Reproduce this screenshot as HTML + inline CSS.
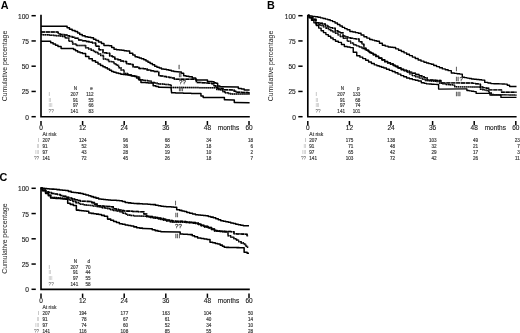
<!DOCTYPE html>
<html><head><meta charset="utf-8"><title>Figure</title>
<style>
html,body{margin:0;padding:0;background:#fff;overflow:hidden}
svg{display:block;font-family:"Liberation Sans",sans-serif;filter:blur(0.35px)}
</style></head><body>
<svg width="520" height="333" viewBox="0 0 520 333">
<rect width="520" height="333" fill="#fff"/>
<path d="M41 14.7V116.7H249.8" fill="none" stroke="#000" stroke-width="1.65"/>
<path d="M31.5 15.7H35.8" stroke="#000" stroke-width="1.5"/>
<text x="29" y="18.7" text-anchor="end" font-size="6.6" fill="#1a1a1a" stroke="#1a1a1a" stroke-width="0.12">100</text>
<path d="M31.5 40.95H35.8" stroke="#000" stroke-width="1.5"/>
<text x="29" y="43.95" text-anchor="end" font-size="6.6" fill="#1a1a1a" stroke="#1a1a1a" stroke-width="0.12">75</text>
<path d="M31.5 66.2H35.8" stroke="#000" stroke-width="1.5"/>
<text x="29" y="69.2" text-anchor="end" font-size="6.6" fill="#1a1a1a" stroke="#1a1a1a" stroke-width="0.12">50</text>
<path d="M31.5 91.45H35.8" stroke="#000" stroke-width="1.5"/>
<text x="29" y="94.45" text-anchor="end" font-size="6.6" fill="#1a1a1a" stroke="#1a1a1a" stroke-width="0.12">25</text>
<path d="M31.5 116.7H35.8" stroke="#000" stroke-width="1.5"/>
<text x="29" y="119.7" text-anchor="end" font-size="6.6" fill="#1a1a1a" stroke="#1a1a1a" stroke-width="0.12">0</text>
<path d="M41 121V125.3" stroke="#000" stroke-width="1.5"/>
<text x="41" y="130.15" text-anchor="middle" font-size="6.5" fill="#1a1a1a" stroke="#1a1a1a" stroke-width="0.12">0</text>
<path d="M82.6 121V125.3" stroke="#000" stroke-width="1.5"/>
<text x="82.6" y="130.15" text-anchor="middle" font-size="6.5" fill="#1a1a1a" stroke="#1a1a1a" stroke-width="0.12">12</text>
<path d="M124.2 121V125.3" stroke="#000" stroke-width="1.5"/>
<text x="124.2" y="130.15" text-anchor="middle" font-size="6.5" fill="#1a1a1a" stroke="#1a1a1a" stroke-width="0.12">24</text>
<path d="M165.8 121V125.3" stroke="#000" stroke-width="1.5"/>
<text x="165.8" y="130.15" text-anchor="middle" font-size="6.5" fill="#1a1a1a" stroke="#1a1a1a" stroke-width="0.12">36</text>
<path d="M207.4 121V125.3" stroke="#000" stroke-width="1.5"/>
<text x="207.4" y="130.15" text-anchor="middle" font-size="6.5" fill="#1a1a1a" stroke="#1a1a1a" stroke-width="0.12">48</text>
<path d="M249 121V125.3" stroke="#000" stroke-width="1.5"/>
<text x="249" y="130.15" text-anchor="middle" font-size="6.5" fill="#1a1a1a" stroke="#1a1a1a" stroke-width="0.12">60</text>
<text x="228.5" y="130" text-anchor="middle" font-size="6.5" fill="#1a1a1a" stroke="#1a1a1a" stroke-width="0.12">months</text>
<text transform="translate(6.6 66) rotate(-90)" text-anchor="middle" font-size="6.85" fill="#222">Cumulative percentage</text>
<text x="0.8" y="9.3" font-size="10.8" font-weight="bold" fill="#000">A</text>
<path d="M41 26.2L65.9 26.2H67.1V27.7H68.3H69.5V29.2H70.7H72.15V30.4H73.6H75.05V31.6H76.5H77.58V33.1H78.65H79.72V34.6H80.8H82.22V35.65H83.65H85.08V36.7H86.5H87.95V37.2H89.4H90.85V37.7H92.3H93.5V39.15H94.7H95.9V40.6H97.1H98.55V42.05H100H101.45V43.5H102.9H103.95V45.4H105H106.38V45.6H107.75H109.12V45.8H110.5H111.67V47.55H112.85H114.03V49.3H115.2H116.55V49.7H117.9H119.25V50.1H120.6H121.78V50.37H122.97H124.15V50.63H125.33H126.52V50.9H127.7H129.65V53.2H131.6H132.76V54.95H133.93H135.09V56.7H136.25H137.24V57.3H138.22H139.21V57.9H140.2H141.4V58.85H142.6H143.8V59.8H145H146V61H147H148V62.2H149H150.13V63.53H151.27H152.4V64.87H153.53H154.67V66.2H155.8H156.93V67.13H158.07H159.2V68.07H160.33H161.47V69H162.6H163.85V69.35H165.1H166.35V69.7H167.6H168.83V70.33H170.07H171.3V70.97H172.53H173.77V71.6H175L180 71.9H181.35V73.3H182.7H183.65V75.7H184.6H186.05V76.2H187.5H188.95V76.7H190.4H192.3V78.1H194.2H195.65V80H197.1L206.7 80H207.45V81.4H208.2H209.55V81.6H210.9H212.25V81.8H213.6H214.05V82.8H214.5H215.85V83.2H217.2H217.65V85.9H218.1H219.9V86.8H221.7L237 87H238.35V88.6H239.7H241.5V89H243.3H244.2V90H245.1L249.6 90" fill="none" stroke="#000" stroke-width="1.5" stroke-linejoin="round"/>
<path d="M41 32.1L58 32.1L58.6 34H60.42V34.5H62.25H64.08V35H65.9H67.1V35.7H68.3H69.5V36.4H70.7H72.15V37.35H73.6H75.05V38.3H76.5H78.65V40H80.8H82.47V40.75H84.15H85.83V41.5H87.5H89.17V42.25H90.85H92.53V43H94.2H95.65V46.3H97.1H99.05V49.7H101H103V52.8H105H106.55V53.2H108.1H109.67V55.9H111.25H112.42V56.7H113.6H114.75V59.1H115.9H117.85V59.8H119.8H120.6V61H121.4H123.35V61.4H125.3H126.5V63.75H127.7H128.85V64.12H130H131.15V64.5H132.3H133.1V66.9H133.9L137.8 66.9H139V68.4H140.2H141.4V68.6H142.6H143.8V68.8H145H147V70H149H150.7V70.75H152.4H154.1V71.5H155.8L158 71.5H158.75V75.7H159.5H160.88V76.05H162.25H163.62V76.4H165H166.33V76.93H167.67H169V77.47H170.33H171.67V78H173H174.35V79.3H175.7L195.7 79.3H196.4V82.4H197.1H198.71V82.6H200.32H201.94V82.8H203.55H205.16V83H206.78H208.39V83.2H210H211.8V83.8H213.6H214.05V85.7H214.5H215.85V86.5H217.2H217.65V88.2H218.1H219.22V88.4H220.35H221.47V88.6H222.6H223.05V89.7H223.5L233.4 89.9H234.1V91.3H234.8H235.9V92.2H237H238.57V92.33H240.15H241.73V92.45H243.3H244.88V92.58H246.45H248.02V92.7H249.6" fill="none" stroke="#000" stroke-opacity="0.5" stroke-width="1.5" stroke-linejoin="round"/>
<path d="M41 32.1L58 32.1L58.6 34H60.42V34.5H62.25H64.08V35H65.9H67.1V35.7H68.3H69.5V36.4H70.7H72.15V37.35H73.6H75.05V38.3H76.5H78.65V40H80.8H82.47V40.75H84.15H85.83V41.5H87.5H89.17V42.25H90.85H92.53V43H94.2H95.65V46.3H97.1H99.05V49.7H101H103V52.8H105H106.55V53.2H108.1H109.67V55.9H111.25H112.42V56.7H113.6H114.75V59.1H115.9H117.85V59.8H119.8H120.6V61H121.4H123.35V61.4H125.3H126.5V63.75H127.7H128.85V64.12H130H131.15V64.5H132.3H133.1V66.9H133.9L137.8 66.9H139V68.4H140.2H141.4V68.6H142.6H143.8V68.8H145H147V70H149H150.7V70.75H152.4H154.1V71.5H155.8L158 71.5H158.75V75.7H159.5H160.88V76.05H162.25H163.62V76.4H165H166.33V76.93H167.67H169V77.47H170.33H171.67V78H173H174.35V79.3H175.7L195.7 79.3H196.4V82.4H197.1H198.71V82.6H200.32H201.94V82.8H203.55H205.16V83H206.78H208.39V83.2H210H211.8V83.8H213.6H214.05V85.7H214.5H215.85V86.5H217.2H217.65V88.2H218.1H219.22V88.4H220.35H221.47V88.6H222.6H223.05V89.7H223.5L233.4 89.9H234.1V91.3H234.8H235.9V92.2H237H238.57V92.33H240.15H241.73V92.45H243.3H244.88V92.58H246.45H248.02V92.7H249.6" fill="none" stroke="#000" stroke-width="1.5" stroke-linejoin="round" stroke-dasharray="4 0.9"/>
<path d="M41 34.5H42.38V34.67H43.75H45.12V34.85H46.5H47.88V35.03H49.25H50.62V35.2H52H53.5V35.5H55H56.5V35.8H58H59.5V36.1H61H62.5V36.4H64H65.4V37.9H66.8H68.75V41.2H70.7H72.6V44.1H74.5H76.45V45.4H78.4L83.7 45.6H85.6V47.8H87.5H88.7V49H89.9H91.1V50.2H92.3H93.5V51.4H94.7H95.9V52.6H97.1H98.3V54.05H99.5H100.7V55.5H101.9H103.45V59.1H105H106.15V59.5H107.3H108.5V61.4H109.7H111.25V61.8H112.8H114V63.75H115.2H116.35V65.3H117.5H118.65V67.7H119.8H121V70H122.2H124.1V73.6H126H127.7V74.65H129.4H131.1V75.7H132.8H134.15V76.35H135.5H136.85V77H138.2H139.6V79.7H141H142.33V80.13H143.67H145V80.57H146.33H147.67V81H149H151V82.4H153H154.38V83.1H155.75H157.12V83.8H158.5H159.94V84.03H161.38H162.81V84.25H164.25H165.69V84.47H167.12H168.56V84.7H170H171.15V87.5H172.3L215.4 87.7H216.75V89.5H218.1H219.22V89.75H220.35H221.47V90H222.6H223.05V91.8H223.5H225.3V92.7H227.1H228.05V93.6H229H230.75V94H232.5L249.6 94" fill="none" stroke="#000" stroke-opacity="0.5" stroke-width="1.5" stroke-linejoin="round"/>
<path d="M41 34.5H42.38V34.67H43.75H45.12V34.85H46.5H47.88V35.03H49.25H50.62V35.2H52H53.5V35.5H55H56.5V35.8H58H59.5V36.1H61H62.5V36.4H64H65.4V37.9H66.8H68.75V41.2H70.7H72.6V44.1H74.5H76.45V45.4H78.4L83.7 45.6H85.6V47.8H87.5H88.7V49H89.9H91.1V50.2H92.3H93.5V51.4H94.7H95.9V52.6H97.1H98.3V54.05H99.5H100.7V55.5H101.9H103.45V59.1H105H106.15V59.5H107.3H108.5V61.4H109.7H111.25V61.8H112.8H114V63.75H115.2H116.35V65.3H117.5H118.65V67.7H119.8H121V70H122.2H124.1V73.6H126H127.7V74.65H129.4H131.1V75.7H132.8H134.15V76.35H135.5H136.85V77H138.2H139.6V79.7H141H142.33V80.13H143.67H145V80.57H146.33H147.67V81H149H151V82.4H153H154.38V83.1H155.75H157.12V83.8H158.5H159.94V84.03H161.38H162.81V84.25H164.25H165.69V84.47H167.12H168.56V84.7H170H171.15V87.5H172.3L215.4 87.7H216.75V89.5H218.1H219.22V89.75H220.35H221.47V90H222.6H223.05V91.8H223.5H225.3V92.7H227.1H228.05V93.6H229H230.75V94H232.5L249.6 94" fill="none" stroke="#000" stroke-width="1.5" stroke-linejoin="round" stroke-dasharray="1.3 0.75"/>
<path d="M41 41.2L49.5 41.2H50.7V42.65H51.9H53.1V44.1H54.3H55.52V45.3H56.75H57.98V46.5H59.2H61.1V48.4H63L72.6 48.4H73.57V49.6H74.55H75.53V50.8H76.5H77.65V52.1H78.8H80.03V52.85H81.25H82.47V53.6H83.7H85.6V56.4H87.5H88.95V58.8H90.4H92.3V60.8H94.2H95.47V62.37H96.73H98V63.93H99.27H100.53V65.5H101.8H102.92V66.63H104.03H105.15V67.77H106.27H107.38V68.9H108.5H109.53V70.25H110.55H111.57V71.6H112.6H113.77V72.27H114.95H116.12V72.95H117.3H118.47V73.62H119.65H120.83V74.3H122H123.13V74.53H124.27H125.4V74.77H126.53H127.67V75H128.8H129.92V75.47H131.03H132.15V75.93H133.27H134.38V76.4H135.5H136.53V78.05H137.55H138.57V79.7H139.6H140.95V82.4H142.3H143.49V82.58H144.68H145.86V82.75H147.05H148.24V82.92H149.43H150.61V83.1H151.8H153.15V85.8H154.5H155.85V86.5H157.2H158.55V87.2H159.9L171 87.4L171.6 92.8H172.9V92.87H174.21H175.51V92.95H176.82H178.12V93.02H179.43H180.73V93.09H182.04H183.34V93.16H184.65H185.95V93.24H187.25H188.56V93.31H189.86H191.17V93.38H192.47H193.78V93.45H195.08H196.39V93.53H197.69H199V93.6H200.3H200.95V95.9H201.6H203.2V97.4H204.8L223.5 97.6H224.4V99.7H225.3L233.4 99.9H234.3V102.6H235.2L249.6 102.8" fill="none" stroke="#000" stroke-width="1.5" stroke-linejoin="round"/>
<text x="178.2" y="68.6" font-size="6.2" fill="#4a4a4a" stroke="#4a4a4a" stroke-width="0.3">I</text>
<text x="178.4" y="76.8" font-size="6.2" fill="#4a4a4a" stroke="#4a4a4a" stroke-width="0.3">II</text>
<text x="179" y="84.3" font-size="6.2" fill="#4a4a4a" stroke="#4a4a4a" stroke-width="0.3">??</text>
<text x="178.4" y="91" font-size="6.2" fill="#4a4a4a" stroke="#4a4a4a" stroke-width="0.3">III</text>
<text x="75.5" y="90.1" text-anchor="middle" font-size="4.6" fill="#3c3c3c" stroke="#3c3c3c" stroke-width="0.17">N</text>
<text x="91.6" y="90.1" text-anchor="middle" font-size="4.6" fill="#3c3c3c" stroke="#3c3c3c" stroke-width="0.17">e</text>
<text x="48.6" y="95.9" font-size="4.6" fill="#8a8a8a">I</text>
<text x="78.2" y="95.9" text-anchor="end" font-size="4.6" fill="#3c3c3c" stroke="#3c3c3c" stroke-width="0.17">207</text>
<text x="93.5" y="95.9" text-anchor="end" font-size="4.6" fill="#3c3c3c" stroke="#3c3c3c" stroke-width="0.17">112</text>
<text x="48.6" y="101.67" font-size="4.6" fill="#a8a8a8">II</text>
<text x="78.2" y="101.67" text-anchor="end" font-size="4.6" fill="#3c3c3c" stroke="#3c3c3c" stroke-width="0.17">91</text>
<text x="93.5" y="101.67" text-anchor="end" font-size="4.6" fill="#3c3c3c" stroke="#3c3c3c" stroke-width="0.17">55</text>
<text x="48.6" y="107.44" font-size="4.6" fill="#a8a8a8">III</text>
<text x="78.2" y="107.44" text-anchor="end" font-size="4.6" fill="#3c3c3c" stroke="#3c3c3c" stroke-width="0.17">97</text>
<text x="93.5" y="107.44" text-anchor="end" font-size="4.6" fill="#3c3c3c" stroke="#3c3c3c" stroke-width="0.17">66</text>
<text x="48.6" y="113.21" font-size="4.6" fill="#484848">??</text>
<text x="78.2" y="113.21" text-anchor="end" font-size="4.6" fill="#3c3c3c" stroke="#3c3c3c" stroke-width="0.17">141</text>
<text x="93.5" y="113.21" text-anchor="end" font-size="4.6" fill="#3c3c3c" stroke="#3c3c3c" stroke-width="0.17">83</text>
<text x="42.5" y="136.3" font-size="5" fill="#3c3c3c" stroke="#3c3c3c" stroke-width="0.17">At risk</text>
<text x="39.2" y="142.3" text-anchor="end" font-size="4.6" fill="#8a8a8a">I</text>
<text x="42.5" y="142.3" font-size="4.6" fill="#3c3c3c" stroke="#3c3c3c" stroke-width="0.17">207</text>
<text x="86.6" y="142.3" text-anchor="end" font-size="4.6" fill="#3c3c3c" stroke="#3c3c3c" stroke-width="0.17">124</text>
<text x="128.2" y="142.3" text-anchor="end" font-size="4.6" fill="#3c3c3c" stroke="#3c3c3c" stroke-width="0.17">96</text>
<text x="169.8" y="142.3" text-anchor="end" font-size="4.6" fill="#3c3c3c" stroke="#3c3c3c" stroke-width="0.17">68</text>
<text x="211.4" y="142.3" text-anchor="end" font-size="4.6" fill="#3c3c3c" stroke="#3c3c3c" stroke-width="0.17">34</text>
<text x="253" y="142.3" text-anchor="end" font-size="4.6" fill="#3c3c3c" stroke="#3c3c3c" stroke-width="0.17">18</text>
<text x="39.2" y="148.25" text-anchor="end" font-size="4.6" fill="#a8a8a8">II</text>
<text x="42.5" y="148.25" font-size="4.6" fill="#3c3c3c" stroke="#3c3c3c" stroke-width="0.17">91</text>
<text x="86.6" y="148.25" text-anchor="end" font-size="4.6" fill="#3c3c3c" stroke="#3c3c3c" stroke-width="0.17">52</text>
<text x="128.2" y="148.25" text-anchor="end" font-size="4.6" fill="#3c3c3c" stroke="#3c3c3c" stroke-width="0.17">36</text>
<text x="169.8" y="148.25" text-anchor="end" font-size="4.6" fill="#3c3c3c" stroke="#3c3c3c" stroke-width="0.17">26</text>
<text x="211.4" y="148.25" text-anchor="end" font-size="4.6" fill="#3c3c3c" stroke="#3c3c3c" stroke-width="0.17">18</text>
<text x="253" y="148.25" text-anchor="end" font-size="4.6" fill="#3c3c3c" stroke="#3c3c3c" stroke-width="0.17">6</text>
<text x="39.2" y="154.2" text-anchor="end" font-size="4.6" fill="#a8a8a8">III</text>
<text x="42.5" y="154.2" font-size="4.6" fill="#3c3c3c" stroke="#3c3c3c" stroke-width="0.17">97</text>
<text x="86.6" y="154.2" text-anchor="end" font-size="4.6" fill="#3c3c3c" stroke="#3c3c3c" stroke-width="0.17">43</text>
<text x="128.2" y="154.2" text-anchor="end" font-size="4.6" fill="#3c3c3c" stroke="#3c3c3c" stroke-width="0.17">28</text>
<text x="169.8" y="154.2" text-anchor="end" font-size="4.6" fill="#3c3c3c" stroke="#3c3c3c" stroke-width="0.17">19</text>
<text x="211.4" y="154.2" text-anchor="end" font-size="4.6" fill="#3c3c3c" stroke="#3c3c3c" stroke-width="0.17">10</text>
<text x="253" y="154.2" text-anchor="end" font-size="4.6" fill="#3c3c3c" stroke="#3c3c3c" stroke-width="0.17">2</text>
<text x="39.2" y="160.15" text-anchor="end" font-size="4.6" fill="#484848">??</text>
<text x="42.5" y="160.15" font-size="4.6" fill="#3c3c3c" stroke="#3c3c3c" stroke-width="0.17">141</text>
<text x="86.6" y="160.15" text-anchor="end" font-size="4.6" fill="#3c3c3c" stroke="#3c3c3c" stroke-width="0.17">72</text>
<text x="128.2" y="160.15" text-anchor="end" font-size="4.6" fill="#3c3c3c" stroke="#3c3c3c" stroke-width="0.17">45</text>
<text x="169.8" y="160.15" text-anchor="end" font-size="4.6" fill="#3c3c3c" stroke="#3c3c3c" stroke-width="0.17">26</text>
<text x="211.4" y="160.15" text-anchor="end" font-size="4.6" fill="#3c3c3c" stroke="#3c3c3c" stroke-width="0.17">18</text>
<text x="253" y="160.15" text-anchor="end" font-size="4.6" fill="#3c3c3c" stroke="#3c3c3c" stroke-width="0.17">7</text>
<path d="M307.8 14.7V116.7H516.6" fill="none" stroke="#000" stroke-width="1.65"/>
<path d="M298.3 15.7H302.6" stroke="#000" stroke-width="1.5"/>
<text x="295.8" y="18.7" text-anchor="end" font-size="6.6" fill="#1a1a1a" stroke="#1a1a1a" stroke-width="0.12">100</text>
<path d="M298.3 40.95H302.6" stroke="#000" stroke-width="1.5"/>
<text x="295.8" y="43.95" text-anchor="end" font-size="6.6" fill="#1a1a1a" stroke="#1a1a1a" stroke-width="0.12">75</text>
<path d="M298.3 66.2H302.6" stroke="#000" stroke-width="1.5"/>
<text x="295.8" y="69.2" text-anchor="end" font-size="6.6" fill="#1a1a1a" stroke="#1a1a1a" stroke-width="0.12">50</text>
<path d="M298.3 91.45H302.6" stroke="#000" stroke-width="1.5"/>
<text x="295.8" y="94.45" text-anchor="end" font-size="6.6" fill="#1a1a1a" stroke="#1a1a1a" stroke-width="0.12">25</text>
<path d="M298.3 116.7H302.6" stroke="#000" stroke-width="1.5"/>
<text x="295.8" y="119.7" text-anchor="end" font-size="6.6" fill="#1a1a1a" stroke="#1a1a1a" stroke-width="0.12">0</text>
<path d="M307.8 121V125.3" stroke="#000" stroke-width="1.5"/>
<text x="307.8" y="130.15" text-anchor="middle" font-size="6.5" fill="#1a1a1a" stroke="#1a1a1a" stroke-width="0.12">0</text>
<path d="M349.4 121V125.3" stroke="#000" stroke-width="1.5"/>
<text x="349.4" y="130.15" text-anchor="middle" font-size="6.5" fill="#1a1a1a" stroke="#1a1a1a" stroke-width="0.12">12</text>
<path d="M391 121V125.3" stroke="#000" stroke-width="1.5"/>
<text x="391" y="130.15" text-anchor="middle" font-size="6.5" fill="#1a1a1a" stroke="#1a1a1a" stroke-width="0.12">24</text>
<path d="M432.6 121V125.3" stroke="#000" stroke-width="1.5"/>
<text x="432.6" y="130.15" text-anchor="middle" font-size="6.5" fill="#1a1a1a" stroke="#1a1a1a" stroke-width="0.12">36</text>
<path d="M474.2 121V125.3" stroke="#000" stroke-width="1.5"/>
<text x="474.2" y="130.15" text-anchor="middle" font-size="6.5" fill="#1a1a1a" stroke="#1a1a1a" stroke-width="0.12">48</text>
<path d="M515.8 121V125.3" stroke="#000" stroke-width="1.5"/>
<text x="515.8" y="130.15" text-anchor="middle" font-size="6.5" fill="#1a1a1a" stroke="#1a1a1a" stroke-width="0.12">60</text>
<text x="495.3" y="130" text-anchor="middle" font-size="6.5" fill="#1a1a1a" stroke="#1a1a1a" stroke-width="0.12">months</text>
<text transform="translate(273.4 66) rotate(-90)" text-anchor="middle" font-size="6.85" fill="#222">Cumulative percentage</text>
<text x="267" y="9.3" font-size="10.8" font-weight="bold" fill="#000">B</text>
<path d="M307.9 15.4H309.34V15.88H310.77H312.21V16.35H313.65H315.09V16.82H316.52H317.96V17.3H319.4H320.6V17.9H321.8H323V18.5H324.2H325.4V19.1H326.6H327.8V19.7H329H330.2V20.65H331.4H332.6V21.6H333.8H335.02V23.05H336.25H337.48V24.5H338.7H339.9V25.95H341.1H342.3V27.4H343.5H344.7V28.6H345.9H347.1V29.8H348.3H349.9V31.5H351.5H352.85V32.07H354.2H355.55V32.63H356.9H358.25V33.2H359.6H361.05V34.95H362.5H363.95V36.7H365.4H366.82V38.1H368.25H369.68V39.5H371.1H372.25V40.1H373.4H374.55V40.7H375.7H376.85V41.3H378H379.45V43.3H380.9H382.35V45.3H383.8H385.25V46.15H386.7H388.15V47H389.6H390.75V47.25H391.9H393.05V47.5H394.2H395.65V48.85H397.1H398.55V50.2H400H401.33V51.53H402.67H404V52.87H405.33H406.67V54.2H408H409.45V55.65H410.9H412.35V57.1H413.8H415.25V58.55H416.7H418.15V60H419.6H421.05V61.15H422.5H423.95V62.3H425.4H426.55V62.97H427.7H428.85V63.63H430H431.15V64.3H432.3H433.73V65.45H435.15H436.57V66.6H438H439.45V67.75H440.9H442.35V68.9H443.8H445.25V69.78H446.7H448.15V70.65H449.6H451.3V73H453H454.35V73.37H455.7H457.05V73.73H458.4H459.75V74.1H461.1H462.3V77.2H463.5H464.65V77.65H465.8H466.95V78.1H468.1H469.25V78.55H470.4H471.55V79H472.7H473.99V79.28H475.27H476.56V79.55H477.85H479.14V79.82H480.43H481.71V80.1H483H484.75V82.4H486.5H487.95V83H489.4H490.85V83.6H492.3H493.68V83.7H495.06H496.44V83.8H497.82H499.2V83.9H500.58H501.96V84H503.34H504.72V84.1H506.1H507.26V85.3H508.43H509.59V86.5H510.75L516.5 86.5" fill="none" stroke="#000" stroke-width="1.4" stroke-linejoin="round"/>
<path d="M307.9 15.4H309.57V17.3H311.25H312.93V19.2H314.6H316.05V22.6H317.5H319.18V23.3H320.85H322.52V24H324.2H325.4V25.45H326.6H327.8V26.9H329H330.2V27.6H331.4H332.6V28.3H333.8H335.25V30.75H336.7H337.9V31.73H339.1H340.3V32.7H341.5H343.05V36H344.6H345.75V36.9H346.9H348.05V37.8H349.2H350.55V38.2H351.9H353.25V38.6H354.6H355.95V39H357.3H359.05V41.8H360.8H361.9V44.1H363H363.9V48.2H364.8H366.1V50.2H367.4H368.7V52.2H370H371.15V53.35H372.3H373.45V54.5H374.6H376.05V56.25H377.5H378.95V58H380.4H381.82V59.7H383.25H384.68V61.4H386.1H387.55V62.58H389H390.45V63.75H391.9H393.05V65.03H394.2H395.35V66.3H396.5H397.95V67.75H399.4H400.85V69.2H402.3H403.73V70.1H405.15H406.57V71H408H409.45V72.15H410.9H412.35V73.3H413.8H415.55V74.55H417.3H419.05V75.8H420.8H421.95V76.7H423.1H424.25V77.6H425.4H427.1V79.9H428.8H430.25V80.05H431.7H433.15V80.2H434.6H436.05V80.35H437.5H438.95V80.5H440.4H440.95V82.8H441.5L471.5 83H472.85V83.37H474.2H475.55V83.73H476.9H478.25V84.1H479.6H480.45V87H481.3H482.9V87.6H484.5H486.1V88.2H487.7H488.85V89.9H490L500.4 89.9H501.55V92.2H502.7L516.5 92.2" fill="none" stroke="#000" stroke-opacity="0.5" stroke-width="1.4" stroke-linejoin="round"/>
<path d="M307.9 15.4H309.57V17.3H311.25H312.93V19.2H314.6H316.05V22.6H317.5H319.18V23.3H320.85H322.52V24H324.2H325.4V25.45H326.6H327.8V26.9H329H330.2V27.6H331.4H332.6V28.3H333.8H335.25V30.75H336.7H337.9V31.73H339.1H340.3V32.7H341.5H343.05V36H344.6H345.75V36.9H346.9H348.05V37.8H349.2H350.55V38.2H351.9H353.25V38.6H354.6H355.95V39H357.3H359.05V41.8H360.8H361.9V44.1H363H363.9V48.2H364.8H366.1V50.2H367.4H368.7V52.2H370H371.15V53.35H372.3H373.45V54.5H374.6H376.05V56.25H377.5H378.95V58H380.4H381.82V59.7H383.25H384.68V61.4H386.1H387.55V62.58H389H390.45V63.75H391.9H393.05V65.03H394.2H395.35V66.3H396.5H397.95V67.75H399.4H400.85V69.2H402.3H403.73V70.1H405.15H406.57V71H408H409.45V72.15H410.9H412.35V73.3H413.8H415.55V74.55H417.3H419.05V75.8H420.8H421.95V76.7H423.1H424.25V77.6H425.4H427.1V79.9H428.8H430.25V80.05H431.7H433.15V80.2H434.6H436.05V80.35H437.5H438.95V80.5H440.4H440.95V82.8H441.5L471.5 83H472.85V83.37H474.2H475.55V83.73H476.9H478.25V84.1H479.6H480.45V87H481.3H482.9V87.6H484.5H486.1V88.2H487.7H488.85V89.9H490L500.4 89.9H501.55V92.2H502.7L516.5 92.2" fill="none" stroke="#000" stroke-width="1.4" stroke-linejoin="round" stroke-dasharray="4 0.9"/>
<path d="M307.9 15.4H309.35V17.55H310.8H312.25V19.7H313.7H315.6V24H317.5H318.7V24.75H319.9H321.1V25.5H322.3H323.5V26.9H324.7H325.9V28.3H327.1H328.3V29.52H329.5H330.7V30.75H331.9H333.1V31.98H334.3H335.5V33.2H336.7H337.9V34.85H339.1H340.3V36.5H341.5H343.45V38.4H345.4H347.3V41.3H349.2H350.65V43H352.1H353.55V44.7H355H356.45V45.85H357.9H359.35V47H360.8H362.23V48.45H363.65H365.07V49.9H366.5H367.65V51.35H368.8H369.95V52.8H371.1H372.85V54.9H374.6H376.05V56.65H377.5H378.95V58.4H380.4H381.82V60.1H383.25H384.68V61.8H386.1H387.55V63H389H390.45V64.2H391.9H393.05V65.5H394.2H395.35V66.8H396.5H397.95V68.25H399.4H400.85V69.7H402.3H403.73V70.9H405.15H406.57V72.1H408H409.45V73.85H410.9H412.35V75.6H413.8H415.55V76.85H417.3H419.05V78.1H420.8H422.23V79.3H423.65H425.07V80.5H426.5H427.94V80.78H429.38H430.81V81.05H432.25H433.69V81.32H435.12H436.56V81.6H438H439.75V83.3H441.5H442.95V83.9H444.4H445.85V84.5H447.3H449.02V84.8H450.75H452.48V85.1H454.2H454.8V86.8H455.4L479.6 87H480.45V89.3H481.3H482.9V89.9H484.5H486.1V90.5H487.7H488.85V92.8H490H491.15V94.5H492.3H493.81V94.58H495.32H496.84V94.65H498.35H499.86V94.72H501.38H502.89V94.8H504.4H505.91V94.88H507.43H508.94V94.95H510.45H511.96V95.02H513.48H514.99V95.1H516.5" fill="none" stroke="#000" stroke-opacity="0.5" stroke-width="1.4" stroke-linejoin="round"/>
<path d="M307.9 15.4H309.35V17.55H310.8H312.25V19.7H313.7H315.6V24H317.5H318.7V24.75H319.9H321.1V25.5H322.3H323.5V26.9H324.7H325.9V28.3H327.1H328.3V29.52H329.5H330.7V30.75H331.9H333.1V31.98H334.3H335.5V33.2H336.7H337.9V34.85H339.1H340.3V36.5H341.5H343.45V38.4H345.4H347.3V41.3H349.2H350.65V43H352.1H353.55V44.7H355H356.45V45.85H357.9H359.35V47H360.8H362.23V48.45H363.65H365.07V49.9H366.5H367.65V51.35H368.8H369.95V52.8H371.1H372.85V54.9H374.6H376.05V56.65H377.5H378.95V58.4H380.4H381.82V60.1H383.25H384.68V61.8H386.1H387.55V63H389H390.45V64.2H391.9H393.05V65.5H394.2H395.35V66.8H396.5H397.95V68.25H399.4H400.85V69.7H402.3H403.73V70.9H405.15H406.57V72.1H408H409.45V73.85H410.9H412.35V75.6H413.8H415.55V76.85H417.3H419.05V78.1H420.8H422.23V79.3H423.65H425.07V80.5H426.5H427.94V80.78H429.38H430.81V81.05H432.25H433.69V81.32H435.12H436.56V81.6H438H439.75V83.3H441.5H442.95V83.9H444.4H445.85V84.5H447.3H449.02V84.8H450.75H452.48V85.1H454.2H454.8V86.8H455.4L479.6 87H480.45V89.3H481.3H482.9V89.9H484.5H486.1V90.5H487.7H488.85V92.8H490H491.15V94.5H492.3H493.81V94.58H495.32H496.84V94.65H498.35H499.86V94.72H501.38H502.89V94.8H504.4H505.91V94.88H507.43H508.94V94.95H510.45H511.96V95.02H513.48H514.99V95.1H516.5" fill="none" stroke="#000" stroke-width="1.4" stroke-linejoin="round" stroke-dasharray="1.3 0.75"/>
<path d="M307.9 15.4H309.1V17.8H310.3H311.5V20.2H312.7H313.9V22.85H315.1H316.3V25.5H317.5H318.7V28.12H319.9H321.1V30.75H322.3H323.5V32.67H324.7H325.9V34.6H327.1H328.3V36.3H329.5H330.7V38H331.9H333.1V39.65H334.3H335.5V41.3H336.7H338.35V42.4H340H341.45V44.45H342.9H344.35V46.5H345.8H347.23V47.05H348.65H350.07V47.6H351.5H353.25V52.2H355H356.75V55.7H358.5H359.93V57.15H361.35H362.77V58.6H364.2H365.65V60.3H367.1H368.55V62H370H371.44V63.45H372.88H374.31V64.9H375.75H376.91V65.68H378.06H379.22V66.45H380.38H381.53V67.22H382.69H383.84V68H385H386.45V69.2H387.9H389.35V70.4H390.8H392.23V71.55H393.65H395.07V72.7H396.5H397.95V74.15H399.4H400.85V75.6H402.3H403.73V76.8H405.15H406.57V78H408H409.45V78.8H410.9H412.35V79.6H413.8H415.25V80.3H416.7H418.15V81H419.6H421.3V82.8H423H424.18V83.35H425.35H426.52V83.9H427.7H428.99V84.05H430.27H431.56V84.2H432.85H434.14V84.35H435.43H436.71V84.5H438H438.6V89.1H439.2L465.8 88.9H466.9V90.5H468H469.17V90.87H470.33H471.5V91.23H472.67H473.83V91.6H475H476.15V93.4H477.3L488.8 93.4H489.95V95.1H491.1L500.4 95.1H500.95V97.4H501.5L516.5 97.4" fill="none" stroke="#000" stroke-width="1.4" stroke-linejoin="round"/>
<text x="455.6" y="70.6" font-size="6.2" fill="#4a4a4a" stroke="#4a4a4a" stroke-width="0.3">I</text>
<text x="455.6" y="81" font-size="6.2" fill="#4a4a4a" stroke="#4a4a4a" stroke-width="0.3">II</text>
<text x="459.6" y="81" font-size="6.2" fill="#4a4a4a" stroke="#4a4a4a" stroke-width="0.3">?</text>
<text x="455.6" y="95.6" font-size="6.2" fill="#4a4a4a" stroke="#4a4a4a" stroke-width="0.3">III</text>
<text x="342.3" y="90.1" text-anchor="middle" font-size="4.6" fill="#3c3c3c" stroke="#3c3c3c" stroke-width="0.17">N</text>
<text x="358.4" y="90.1" text-anchor="middle" font-size="4.6" fill="#3c3c3c" stroke="#3c3c3c" stroke-width="0.17">p</text>
<text x="315.4" y="95.9" font-size="4.6" fill="#8a8a8a">I</text>
<text x="345" y="95.9" text-anchor="end" font-size="4.6" fill="#3c3c3c" stroke="#3c3c3c" stroke-width="0.17">207</text>
<text x="360.3" y="95.9" text-anchor="end" font-size="4.6" fill="#3c3c3c" stroke="#3c3c3c" stroke-width="0.17">133</text>
<text x="315.4" y="101.67" font-size="4.6" fill="#a8a8a8">II</text>
<text x="345" y="101.67" text-anchor="end" font-size="4.6" fill="#3c3c3c" stroke="#3c3c3c" stroke-width="0.17">91</text>
<text x="360.3" y="101.67" text-anchor="end" font-size="4.6" fill="#3c3c3c" stroke="#3c3c3c" stroke-width="0.17">68</text>
<text x="315.4" y="107.44" font-size="4.6" fill="#a8a8a8">III</text>
<text x="345" y="107.44" text-anchor="end" font-size="4.6" fill="#3c3c3c" stroke="#3c3c3c" stroke-width="0.17">97</text>
<text x="360.3" y="107.44" text-anchor="end" font-size="4.6" fill="#3c3c3c" stroke="#3c3c3c" stroke-width="0.17">74</text>
<text x="315.4" y="113.21" font-size="4.6" fill="#484848">??</text>
<text x="345" y="113.21" text-anchor="end" font-size="4.6" fill="#3c3c3c" stroke="#3c3c3c" stroke-width="0.17">141</text>
<text x="360.3" y="113.21" text-anchor="end" font-size="4.6" fill="#3c3c3c" stroke="#3c3c3c" stroke-width="0.17">101</text>
<text x="309.3" y="136.3" font-size="5" fill="#3c3c3c" stroke="#3c3c3c" stroke-width="0.17">At risk</text>
<text x="306" y="142.3" text-anchor="end" font-size="4.6" fill="#8a8a8a">I</text>
<text x="309.3" y="142.3" font-size="4.6" fill="#3c3c3c" stroke="#3c3c3c" stroke-width="0.17">207</text>
<text x="353.4" y="142.3" text-anchor="end" font-size="4.6" fill="#3c3c3c" stroke="#3c3c3c" stroke-width="0.17">175</text>
<text x="395" y="142.3" text-anchor="end" font-size="4.6" fill="#3c3c3c" stroke="#3c3c3c" stroke-width="0.17">138</text>
<text x="436.6" y="142.3" text-anchor="end" font-size="4.6" fill="#3c3c3c" stroke="#3c3c3c" stroke-width="0.17">103</text>
<text x="478.2" y="142.3" text-anchor="end" font-size="4.6" fill="#3c3c3c" stroke="#3c3c3c" stroke-width="0.17">49</text>
<text x="519.8" y="142.3" text-anchor="end" font-size="4.6" fill="#3c3c3c" stroke="#3c3c3c" stroke-width="0.17">23</text>
<text x="306" y="148.25" text-anchor="end" font-size="4.6" fill="#a8a8a8">II</text>
<text x="309.3" y="148.25" font-size="4.6" fill="#3c3c3c" stroke="#3c3c3c" stroke-width="0.17">91</text>
<text x="353.4" y="148.25" text-anchor="end" font-size="4.6" fill="#3c3c3c" stroke="#3c3c3c" stroke-width="0.17">71</text>
<text x="395" y="148.25" text-anchor="end" font-size="4.6" fill="#3c3c3c" stroke="#3c3c3c" stroke-width="0.17">48</text>
<text x="436.6" y="148.25" text-anchor="end" font-size="4.6" fill="#3c3c3c" stroke="#3c3c3c" stroke-width="0.17">32</text>
<text x="478.2" y="148.25" text-anchor="end" font-size="4.6" fill="#3c3c3c" stroke="#3c3c3c" stroke-width="0.17">21</text>
<text x="519.8" y="148.25" text-anchor="end" font-size="4.6" fill="#3c3c3c" stroke="#3c3c3c" stroke-width="0.17">7</text>
<text x="306" y="154.2" text-anchor="end" font-size="4.6" fill="#a8a8a8">III</text>
<text x="309.3" y="154.2" font-size="4.6" fill="#3c3c3c" stroke="#3c3c3c" stroke-width="0.17">97</text>
<text x="353.4" y="154.2" text-anchor="end" font-size="4.6" fill="#3c3c3c" stroke="#3c3c3c" stroke-width="0.17">65</text>
<text x="395" y="154.2" text-anchor="end" font-size="4.6" fill="#3c3c3c" stroke="#3c3c3c" stroke-width="0.17">42</text>
<text x="436.6" y="154.2" text-anchor="end" font-size="4.6" fill="#3c3c3c" stroke="#3c3c3c" stroke-width="0.17">29</text>
<text x="478.2" y="154.2" text-anchor="end" font-size="4.6" fill="#3c3c3c" stroke="#3c3c3c" stroke-width="0.17">17</text>
<text x="519.8" y="154.2" text-anchor="end" font-size="4.6" fill="#3c3c3c" stroke="#3c3c3c" stroke-width="0.17">3</text>
<text x="306" y="160.15" text-anchor="end" font-size="4.6" fill="#484848">??</text>
<text x="309.3" y="160.15" font-size="4.6" fill="#3c3c3c" stroke="#3c3c3c" stroke-width="0.17">141</text>
<text x="353.4" y="160.15" text-anchor="end" font-size="4.6" fill="#3c3c3c" stroke="#3c3c3c" stroke-width="0.17">103</text>
<text x="395" y="160.15" text-anchor="end" font-size="4.6" fill="#3c3c3c" stroke="#3c3c3c" stroke-width="0.17">72</text>
<text x="436.6" y="160.15" text-anchor="end" font-size="4.6" fill="#3c3c3c" stroke="#3c3c3c" stroke-width="0.17">42</text>
<text x="478.2" y="160.15" text-anchor="end" font-size="4.6" fill="#3c3c3c" stroke="#3c3c3c" stroke-width="0.17">26</text>
<text x="519.8" y="160.15" text-anchor="end" font-size="4.6" fill="#3c3c3c" stroke="#3c3c3c" stroke-width="0.17">11</text>
<path d="M41 187.3V289.3H249.8" fill="none" stroke="#000" stroke-width="1.65"/>
<path d="M31.5 188.3H35.8" stroke="#000" stroke-width="1.5"/>
<text x="29" y="191.3" text-anchor="end" font-size="6.6" fill="#1a1a1a" stroke="#1a1a1a" stroke-width="0.12">100</text>
<path d="M31.5 213.55H35.8" stroke="#000" stroke-width="1.5"/>
<text x="29" y="216.55" text-anchor="end" font-size="6.6" fill="#1a1a1a" stroke="#1a1a1a" stroke-width="0.12">75</text>
<path d="M31.5 238.8H35.8" stroke="#000" stroke-width="1.5"/>
<text x="29" y="241.8" text-anchor="end" font-size="6.6" fill="#1a1a1a" stroke="#1a1a1a" stroke-width="0.12">50</text>
<path d="M31.5 264.05H35.8" stroke="#000" stroke-width="1.5"/>
<text x="29" y="267.05" text-anchor="end" font-size="6.6" fill="#1a1a1a" stroke="#1a1a1a" stroke-width="0.12">25</text>
<path d="M31.5 289.3H35.8" stroke="#000" stroke-width="1.5"/>
<text x="29" y="292.3" text-anchor="end" font-size="6.6" fill="#1a1a1a" stroke="#1a1a1a" stroke-width="0.12">0</text>
<path d="M41 293.6V297.9" stroke="#000" stroke-width="1.5"/>
<text x="41" y="302.75" text-anchor="middle" font-size="6.5" fill="#1a1a1a" stroke="#1a1a1a" stroke-width="0.12">0</text>
<path d="M82.6 293.6V297.9" stroke="#000" stroke-width="1.5"/>
<text x="82.6" y="302.75" text-anchor="middle" font-size="6.5" fill="#1a1a1a" stroke="#1a1a1a" stroke-width="0.12">12</text>
<path d="M124.2 293.6V297.9" stroke="#000" stroke-width="1.5"/>
<text x="124.2" y="302.75" text-anchor="middle" font-size="6.5" fill="#1a1a1a" stroke="#1a1a1a" stroke-width="0.12">24</text>
<path d="M165.8 293.6V297.9" stroke="#000" stroke-width="1.5"/>
<text x="165.8" y="302.75" text-anchor="middle" font-size="6.5" fill="#1a1a1a" stroke="#1a1a1a" stroke-width="0.12">36</text>
<path d="M207.4 293.6V297.9" stroke="#000" stroke-width="1.5"/>
<text x="207.4" y="302.75" text-anchor="middle" font-size="6.5" fill="#1a1a1a" stroke="#1a1a1a" stroke-width="0.12">48</text>
<path d="M249 293.6V297.9" stroke="#000" stroke-width="1.5"/>
<text x="249" y="302.75" text-anchor="middle" font-size="6.5" fill="#1a1a1a" stroke="#1a1a1a" stroke-width="0.12">60</text>
<text x="228.5" y="302.6" text-anchor="middle" font-size="6.5" fill="#1a1a1a" stroke="#1a1a1a" stroke-width="0.12">months</text>
<text transform="translate(6.6 238.6) rotate(-90)" text-anchor="middle" font-size="6.85" fill="#222">Cumulative percentage</text>
<text x="-0.4" y="181" font-size="10.8" font-weight="bold" fill="#000">C</text>
<path d="M40.9 188.2H42.1V188.38H43.3H44.5V188.57H45.7H46.9V188.75H48.1H49.3V188.93H50.5H51.7V189.12H52.9H54.1V189.3H55.3H56.74V189.6H58.17H59.61V189.9H61.05H62.49V190.2H63.92H65.36V190.5H66.8H68.25V191.35H69.7H71.15V192.2H72.6H73.75V192.5H74.9H76.05V192.8H77.2H78.35V193.1H79.5H80.65V193.4H81.8H83.15V194.17H84.5H85.85V194.93H87.2H88.55V195.7H89.9H90.95V196.6H92H93.33V197.37H94.67H96V198.13H97.33H98.67V198.9H100H101.16V199.18H102.33H103.49V199.45H104.65H105.81V199.72H106.97H108.14V200H109.3H110.74V200.16H112.17H113.61V200.32H115.05H116.49V200.49H117.92H119.36V200.65H120.8H122.25V201.53H123.7H125.15V202.4H126.6H128.05V202.85H129.5H130.95V203.3H132.4H133.84V203.45H135.28H136.71V203.6H138.15H139.59V203.75H141.03H142.46V203.9H143.9H145.19V204.07H146.47H147.76V204.25H149.05H150.34V204.43H151.62H152.91V204.6H154.2H155.55V205.17H156.9H158.25V205.73H159.6H160.95V206.3H162.3H163.57V206.48H164.84H166.11V206.66H167.38H168.65V206.84H169.92H171.19V207.02H172.46H173.73V207.2H175H176.7V209.8H178.4H179.57V210.37H180.73H181.9V210.93H183.07H184.23V211.5H185.4H186.82V212.4H188.25H189.68V213.3H191.1H192.55V214.05H194H195.45V214.8H196.9H198.16V215.05H199.43H200.69V215.3H201.95H203.21V215.55H204.47H205.74V215.8H207H208.25V216.45H209.5H210.75V217.1H212H213.25V217.75H214.5H215.75V218.75H217H218.25V219.75H219.5H220.75V220.75H222H223.25V221.25H224.5H225.75V221.75H227H228.25V222.25H229.5H230.75V222.9H232H233.25V223.55H234.5H235.75V224.2H237H238.25V224.7H239.5H240.75V225.2H242H243.25V225.7H244.5L249 225.7" fill="none" stroke="#000" stroke-width="1.55" stroke-linejoin="round"/>
<path d="M40.9 188.2H42.47V189.93H44.05H45.62V191.65H47.2H48.65V192.53H50.1H51.55V193.4H53H54.45V193.95H55.9H57.35V194.5H58.8H60.22V195.4H61.65H63.08V196.3H64.5H65.95V197.15H67.4H68.85V198H70.3H71.72V198.85H73.15H74.58V199.7H76H77.45V200.45H78.9H80.35V201.2H81.8L89.9 201.5H91.65V202.6H93.4H94.45V204.1H95.5H97.2V205.8H98.9H100.49V206.05H102.08H103.66V206.3H105.25H106.84V206.55H108.42H110.01V206.8H111.6H113.3V208.7H115H116.17V209.3H117.35H118.53V209.9H119.7H121.12V210.45H122.55H123.98V211H125.4H126.85V211.13H128.29H129.74V211.27H131.18H132.63V211.4H134.07H135.52V211.53H136.97H138.41V211.67H139.86H141.3V211.8H142.75H143.88V213.9H145H146.75V216.2H148.5H149.83V216.63H151.17H152.5V217.07H153.83H155.17V217.5H156.5H157.95V218.05H159.4H160.85V218.6H162.3H163.73V219.3H165.15H166.57V220H168H169.45V220.5H170.9H172.35V221H173.8H175.53V221.17H177.27H179V221.33H180.73H182.47V221.5H184.2H185.92V221.9H187.65H189.38V222.3H191.1H192.55V222.6H194H195.45V222.9H196.9H198.3V224.07H199.7H201.1V225.25H202.5H204.38V226.38H206.25H208.12V227.5H210H211.5V229H213H214.5V230.5H216H217.12V230.88H218.25H219.38V231.25H220.5H222V231.36H223.5H225V231.47H226.5H228V231.59H229.5H231V231.7H232.5H234V233.8H235.5H236.81V233.91H238.12H239.44V234.03H240.75H242.06V234.14H243.38H244.69V234.25H246H247.12V235.75H248.25" fill="none" stroke="#000" stroke-opacity="0.5" stroke-width="1.55" stroke-linejoin="round"/>
<path d="M40.9 188.2H42.47V189.93H44.05H45.62V191.65H47.2H48.65V192.53H50.1H51.55V193.4H53H54.45V193.95H55.9H57.35V194.5H58.8H60.22V195.4H61.65H63.08V196.3H64.5H65.95V197.15H67.4H68.85V198H70.3H71.72V198.85H73.15H74.58V199.7H76H77.45V200.45H78.9H80.35V201.2H81.8L89.9 201.5H91.65V202.6H93.4H94.45V204.1H95.5H97.2V205.8H98.9H100.49V206.05H102.08H103.66V206.3H105.25H106.84V206.55H108.42H110.01V206.8H111.6H113.3V208.7H115H116.17V209.3H117.35H118.53V209.9H119.7H121.12V210.45H122.55H123.98V211H125.4H126.85V211.13H128.29H129.74V211.27H131.18H132.63V211.4H134.07H135.52V211.53H136.97H138.41V211.67H139.86H141.3V211.8H142.75H143.88V213.9H145H146.75V216.2H148.5H149.83V216.63H151.17H152.5V217.07H153.83H155.17V217.5H156.5H157.95V218.05H159.4H160.85V218.6H162.3H163.73V219.3H165.15H166.57V220H168H169.45V220.5H170.9H172.35V221H173.8H175.53V221.17H177.27H179V221.33H180.73H182.47V221.5H184.2H185.92V221.9H187.65H189.38V222.3H191.1H192.55V222.6H194H195.45V222.9H196.9H198.3V224.07H199.7H201.1V225.25H202.5H204.38V226.38H206.25H208.12V227.5H210H211.5V229H213H214.5V230.5H216H217.12V230.88H218.25H219.38V231.25H220.5H222V231.36H223.5H225V231.47H226.5H228V231.59H229.5H231V231.7H232.5H234V233.8H235.5H236.81V233.91H238.12H239.44V234.03H240.75H242.06V234.14H243.38H244.69V234.25H246H247.12V235.75H248.25" fill="none" stroke="#000" stroke-width="1.55" stroke-linejoin="round" stroke-dasharray="4 0.9"/>
<path d="M40.9 188.2H42.47V190.5H44.05H45.62V192.8H47.2H48.35V195.1H49.5H50.65V197.4H51.8H53.3V197.64H54.8H56.3V197.88H57.8H59.3V198.12H60.8H62.3V198.36H63.8H65.3V198.6H66.8H67.95V199.45H69.1H70.25V200.3H71.4H72.85V201.45H74.3H75.75V202.6H77.2H78.35V203.45H79.5H80.65V204.3H81.8H83.25V204.75H84.7H86.15V205.2H87.6L92 205.5H93.45V205.95H94.9H96.35V206.4H97.8H99.22V207H100.65H102.08V207.6H103.5H104.95V208.15H106.4H107.85V208.7H109.3H110.72V209.6H112.15H113.58V210.5H115H116.45V211.05H117.9H119.35V211.6H120.8H122.55V213.3H124.3H125.45V214.2H126.6H127.75V215.1H128.9H130.62V215.55H132.35H134.08V216H135.8L145 216.2H146.75V216.8H148.5H150.25V217.4H152H153.12V217.85H154.25H155.38V218.3H156.5H157.95V218.85H159.4H160.85V219.4H162.3H163.73V220.2H165.15H166.57V221H168H169.45V221.6H170.9H172.35V222.2H173.8L184.2 222.3H185.92V222.55H187.65H189.38V222.8H191.1H192.55V223.1H194H195.45V223.4H196.9H198.3V224.55H199.7H201.1V225.7H202.5H204.38V226.85H206.25H208.12V228H210H211.5V229.5H213H214.5V231H216H217.31V231.22H218.62H219.94V231.45H221.25H222.56V231.68H223.88H225.19V231.9H226.5H228V235.75H229.5H231V237.25H232.5H234V238.75H235.5H236.62V240.25H237.75H238.88V241.75H240H241.12V242.88H242.25H243.38V244H244.5H245.62V246.25H246.75H247.5V247.3H248.25" fill="none" stroke="#000" stroke-opacity="0.5" stroke-width="1.55" stroke-linejoin="round"/>
<path d="M40.9 188.2H42.47V190.5H44.05H45.62V192.8H47.2H48.35V195.1H49.5H50.65V197.4H51.8H53.3V197.64H54.8H56.3V197.88H57.8H59.3V198.12H60.8H62.3V198.36H63.8H65.3V198.6H66.8H67.95V199.45H69.1H70.25V200.3H71.4H72.85V201.45H74.3H75.75V202.6H77.2H78.35V203.45H79.5H80.65V204.3H81.8H83.25V204.75H84.7H86.15V205.2H87.6L92 205.5H93.45V205.95H94.9H96.35V206.4H97.8H99.22V207H100.65H102.08V207.6H103.5H104.95V208.15H106.4H107.85V208.7H109.3H110.72V209.6H112.15H113.58V210.5H115H116.45V211.05H117.9H119.35V211.6H120.8H122.55V213.3H124.3H125.45V214.2H126.6H127.75V215.1H128.9H130.62V215.55H132.35H134.08V216H135.8L145 216.2H146.75V216.8H148.5H150.25V217.4H152H153.12V217.85H154.25H155.38V218.3H156.5H157.95V218.85H159.4H160.85V219.4H162.3H163.73V220.2H165.15H166.57V221H168H169.45V221.6H170.9H172.35V222.2H173.8L184.2 222.3H185.92V222.55H187.65H189.38V222.8H191.1H192.55V223.1H194H195.45V223.4H196.9H198.3V224.55H199.7H201.1V225.7H202.5H204.38V226.85H206.25H208.12V228H210H211.5V229.5H213H214.5V231H216H217.31V231.22H218.62H219.94V231.45H221.25H222.56V231.68H223.88H225.19V231.9H226.5H228V235.75H229.5H231V237.25H232.5H234V238.75H235.5H236.62V240.25H237.75H238.88V241.75H240H241.12V242.88H242.25H243.38V244H244.5H245.62V246.25H246.75H247.5V247.3H248.25" fill="none" stroke="#000" stroke-width="1.55" stroke-linejoin="round" stroke-dasharray="1.3 0.75"/>
<path d="M40.9 188.2H42.47V190.8H44.05H45.62V193.4H47.2H48.35V195.7H49.5H50.65V198H51.8H53.05V198.18H54.3H55.55V198.37H56.8H58.05V198.55H59.3H60.55V198.73H61.8H63.05V198.92H64.3H65.55V199.1H66.8H67.7V203.2H68.6H70.17V204.35H71.75H73.33V205.5H74.9H76.35V210.1H77.8H79.03V210.4H80.25H81.47V210.7H82.7H83.92V211H85.15H86.38V211.3H87.6H88.75V213H89.9H91.16V213.38H92.43H93.69V213.75H94.95H96.21V214.12H97.47H98.74V214.5H100H101.45V215.35H102.9H104.35V216.2H105.8H107.55V219.1H109.3H110.72V220.25H112.15H113.58V221.4H115H116.45V222.55H117.9H119.35V223.7H120.8H122.25V224.3H123.7H125.15V224.9H126.6H128.05V225.45H129.5H130.95V226H132.4H133.82V226.88H135.25H136.68V227.75H138.1H139.55V228.12H141H142.45V228.5H143.9L150.8 228.8H152.23V229.7H153.65H155.07V230.6H156.5H157.95V231.15H159.4H160.85V231.7H162.3L178.4 232H180.15V234H181.9H183.05V234.15H184.2H185.35V234.3H186.5H187.65V234.45H188.8H189.95V234.6H191.1H192.26V235.65H193.43H194.59V236.7H195.75H197.62V238H199.5H201V238.5H202.5H204V239H205.5H207V239.5H208.5H210V242.2H211.5H212.75V242.8H214H215.25V243.4H216.5H217.75V244H219H220.12V245.12H221.25H222.38V246.25H223.5H224.25V247.3H225H226.29V247.36H227.57H228.86V247.43H230.14H231.43V247.49H232.71H234V247.56H235.29H236.57V247.62H237.86H239.14V247.69H240.43H241.71V247.75H243H244.12V252.25H245.25H247.12V253.3H249" fill="none" stroke="#000" stroke-width="1.55" stroke-linejoin="round"/>
<text x="174.8" y="205" font-size="6.2" fill="#4a4a4a" stroke="#4a4a4a" stroke-width="0.3">I</text>
<text x="175" y="217.1" font-size="6.2" fill="#4a4a4a" stroke="#4a4a4a" stroke-width="0.3">II</text>
<text x="175" y="228" font-size="6.2" fill="#4a4a4a" stroke="#4a4a4a" stroke-width="0.3">??</text>
<text x="175" y="237.9" font-size="6.2" fill="#4a4a4a" stroke="#4a4a4a" stroke-width="0.3">III</text>
<text x="75.5" y="262.7" text-anchor="middle" font-size="4.6" fill="#3c3c3c" stroke="#3c3c3c" stroke-width="0.17">N</text>
<text x="88.7" y="262.7" text-anchor="middle" font-size="4.6" fill="#3c3c3c" stroke="#3c3c3c" stroke-width="0.17">d</text>
<text x="48.6" y="268.5" font-size="4.6" fill="#8a8a8a">I</text>
<text x="78.2" y="268.5" text-anchor="end" font-size="4.6" fill="#3c3c3c" stroke="#3c3c3c" stroke-width="0.17">207</text>
<text x="90.6" y="268.5" text-anchor="end" font-size="4.6" fill="#3c3c3c" stroke="#3c3c3c" stroke-width="0.17">70</text>
<text x="48.6" y="274.27" font-size="4.6" fill="#a8a8a8">II</text>
<text x="78.2" y="274.27" text-anchor="end" font-size="4.6" fill="#3c3c3c" stroke="#3c3c3c" stroke-width="0.17">91</text>
<text x="90.6" y="274.27" text-anchor="end" font-size="4.6" fill="#3c3c3c" stroke="#3c3c3c" stroke-width="0.17">44</text>
<text x="48.6" y="280.04" font-size="4.6" fill="#a8a8a8">III</text>
<text x="78.2" y="280.04" text-anchor="end" font-size="4.6" fill="#3c3c3c" stroke="#3c3c3c" stroke-width="0.17">97</text>
<text x="90.6" y="280.04" text-anchor="end" font-size="4.6" fill="#3c3c3c" stroke="#3c3c3c" stroke-width="0.17">55</text>
<text x="48.6" y="285.81" font-size="4.6" fill="#484848">??</text>
<text x="78.2" y="285.81" text-anchor="end" font-size="4.6" fill="#3c3c3c" stroke="#3c3c3c" stroke-width="0.17">141</text>
<text x="90.6" y="285.81" text-anchor="end" font-size="4.6" fill="#3c3c3c" stroke="#3c3c3c" stroke-width="0.17">58</text>
<text x="42.5" y="308.9" font-size="5" fill="#3c3c3c" stroke="#3c3c3c" stroke-width="0.17">At risk</text>
<text x="39.2" y="314.9" text-anchor="end" font-size="4.6" fill="#8a8a8a">I</text>
<text x="42.5" y="314.9" font-size="4.6" fill="#3c3c3c" stroke="#3c3c3c" stroke-width="0.17">207</text>
<text x="86.6" y="314.9" text-anchor="end" font-size="4.6" fill="#3c3c3c" stroke="#3c3c3c" stroke-width="0.17">194</text>
<text x="128.2" y="314.9" text-anchor="end" font-size="4.6" fill="#3c3c3c" stroke="#3c3c3c" stroke-width="0.17">177</text>
<text x="169.8" y="314.9" text-anchor="end" font-size="4.6" fill="#3c3c3c" stroke="#3c3c3c" stroke-width="0.17">163</text>
<text x="211.4" y="314.9" text-anchor="end" font-size="4.6" fill="#3c3c3c" stroke="#3c3c3c" stroke-width="0.17">104</text>
<text x="253" y="314.9" text-anchor="end" font-size="4.6" fill="#3c3c3c" stroke="#3c3c3c" stroke-width="0.17">50</text>
<text x="39.2" y="320.85" text-anchor="end" font-size="4.6" fill="#a8a8a8">II</text>
<text x="42.5" y="320.85" font-size="4.6" fill="#3c3c3c" stroke="#3c3c3c" stroke-width="0.17">91</text>
<text x="86.6" y="320.85" text-anchor="end" font-size="4.6" fill="#3c3c3c" stroke="#3c3c3c" stroke-width="0.17">78</text>
<text x="128.2" y="320.85" text-anchor="end" font-size="4.6" fill="#3c3c3c" stroke="#3c3c3c" stroke-width="0.17">67</text>
<text x="169.8" y="320.85" text-anchor="end" font-size="4.6" fill="#3c3c3c" stroke="#3c3c3c" stroke-width="0.17">61</text>
<text x="211.4" y="320.85" text-anchor="end" font-size="4.6" fill="#3c3c3c" stroke="#3c3c3c" stroke-width="0.17">40</text>
<text x="253" y="320.85" text-anchor="end" font-size="4.6" fill="#3c3c3c" stroke="#3c3c3c" stroke-width="0.17">14</text>
<text x="39.2" y="326.8" text-anchor="end" font-size="4.6" fill="#a8a8a8">III</text>
<text x="42.5" y="326.8" font-size="4.6" fill="#3c3c3c" stroke="#3c3c3c" stroke-width="0.17">97</text>
<text x="86.6" y="326.8" text-anchor="end" font-size="4.6" fill="#3c3c3c" stroke="#3c3c3c" stroke-width="0.17">74</text>
<text x="128.2" y="326.8" text-anchor="end" font-size="4.6" fill="#3c3c3c" stroke="#3c3c3c" stroke-width="0.17">60</text>
<text x="169.8" y="326.8" text-anchor="end" font-size="4.6" fill="#3c3c3c" stroke="#3c3c3c" stroke-width="0.17">52</text>
<text x="211.4" y="326.8" text-anchor="end" font-size="4.6" fill="#3c3c3c" stroke="#3c3c3c" stroke-width="0.17">34</text>
<text x="253" y="326.8" text-anchor="end" font-size="4.6" fill="#3c3c3c" stroke="#3c3c3c" stroke-width="0.17">10</text>
<text x="39.2" y="332.75" text-anchor="end" font-size="4.6" fill="#484848">??</text>
<text x="42.5" y="332.75" font-size="4.6" fill="#3c3c3c" stroke="#3c3c3c" stroke-width="0.17">141</text>
<text x="86.6" y="332.75" text-anchor="end" font-size="4.6" fill="#3c3c3c" stroke="#3c3c3c" stroke-width="0.17">116</text>
<text x="128.2" y="332.75" text-anchor="end" font-size="4.6" fill="#3c3c3c" stroke="#3c3c3c" stroke-width="0.17">108</text>
<text x="169.8" y="332.75" text-anchor="end" font-size="4.6" fill="#3c3c3c" stroke="#3c3c3c" stroke-width="0.17">85</text>
<text x="211.4" y="332.75" text-anchor="end" font-size="4.6" fill="#3c3c3c" stroke="#3c3c3c" stroke-width="0.17">55</text>
<text x="253" y="332.75" text-anchor="end" font-size="4.6" fill="#3c3c3c" stroke="#3c3c3c" stroke-width="0.17">28</text>
</svg>
</body></html>
